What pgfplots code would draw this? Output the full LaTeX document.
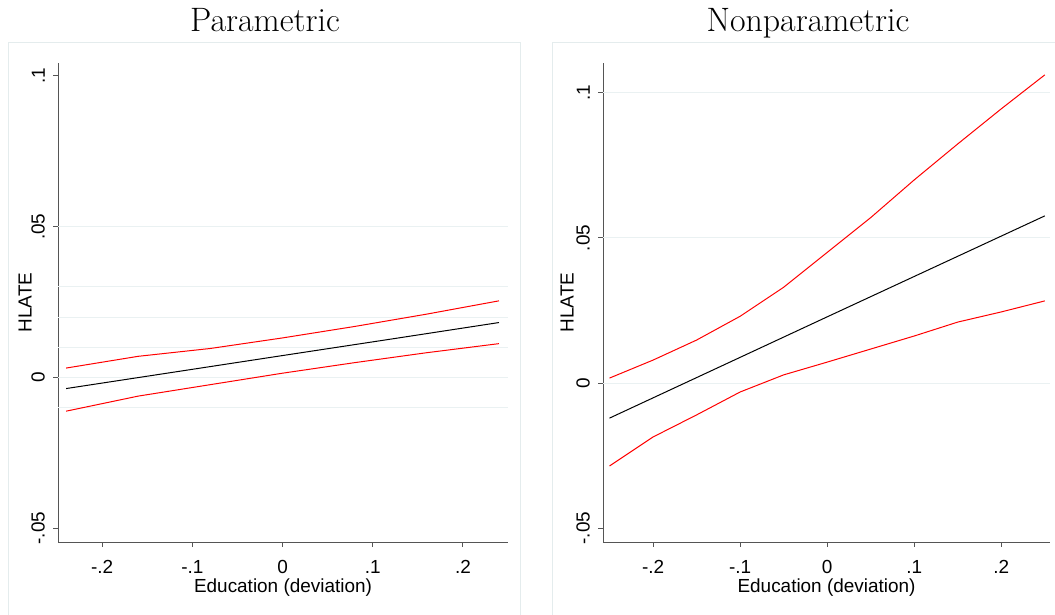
\documentclass[border=0pt]{standalone}
\usepackage{fontspec}
\usepackage{pgfplots}
\pgfplotsset{compat=1.18}
\newfontfamily\arial{Liberation Sans}
\definecolor{gridc}{RGB}{234,241,242}
\definecolor{framec}{RGB}{228,236,237}
\definecolor{axc}{RGB}{85,85,85}
\pgfplotsset{stata/.style={
  scale only axis, height=479bp,
  axis lines*=left,
  axis line style={axc, line width=1bp},
  tick style={draw=axc, line width=1bp},
  tick align=outside,
  major tick length=5bp,
  ticklabel style={font=\fontsize{19}{22}\arial},
  xtick={-0.2,-0.1,0,0.1,0.2},
  xticklabels={-.2,-.1,0,.1,.2},
  xticklabel style={anchor=north, inner sep=0pt, yshift=-13bp},
  ytick={-0.05,0,0.05,0.1},
  yticklabels={-.05,0,.05,.1},
  yticklabel style={rotate=90, anchor=south, inner sep=0pt, yshift=8bp},
  ymin=-0.0546, ymax=0.1043,
  every axis x label/.style={at={(axis description cs:0.5,-0.096)}, anchor=center, font=\fontsize{19}{22}\arial},
  xlabel={Education (deviation)},
  ylabel={HLATE},
}}
\begin{document}
\begin{tikzpicture}
\path[use as bounding box] (0,0) rectangle (1055bp,615bp);
\draw[framec, line width=1bp] (8bp,-5bp) -- (8bp,572bp) -- (520bp,572bp) -- (520bp,-5bp);
\draw[framec, line width=1bp] (552bp,-5bp) -- (552bp,572bp) -- (1065bp,572bp);
\node[anchor=base, font=\fontsize{34}{40}\selectfont] at (265bp,583bp) {Parametric};
\node[anchor=base, font=\fontsize{34}{40}\selectfont] at (808bp,583bp) {Nonparametric};

\begin{axis}[stata, at={(58bp,73bp)}, anchor=south west, width=450bp,
  xmin=-0.249, xmax=0.25,
  every axis y label/.style={at={(axis description cs:-0.0733,0.5)}, rotate=90, anchor=center, font=\fontsize{19}{22}\arial},
]
\pgfplotsinvokeforeach{-0.01,0,0.01,0.02,0.03,0.05}{
  \addplot[gridc, line width=1bp, forget plot] coordinates {(-0.249,#1) (0.25,#1)};
}
\pgfplotsinvokeforeach{-0.2,-0.1,0,0.1,0.2}{
  \draw[axc, line width=1bp] (axis cs:#1,-0.0546) -- ([yshift=-5bp]axis cs:#1,-0.0546);
}
\pgfplotsinvokeforeach{-0.05,0,0.05,0.1}{
  \draw[axc, line width=1bp] (axis cs:-0.249,#1) -- ([xshift=-5bp]axis cs:-0.249,#1);
}
\addplot[black, line width=1bp] coordinates {(-0.24,-0.0037) (-0.12,0.00177) (0,0.00725) (0.12,0.0127) (0.24,0.0182)};
\addplot[red, line width=1bp] coordinates {(-0.24,0.0031) (-0.16,0.0070) (-0.08,0.0096) (0,0.0131) (0.08,0.0169) (0.16,0.0210) (0.24,0.0254)};
\addplot[red, line width=1bp] coordinates {(-0.24,-0.0112) (-0.16,-0.0062) (-0.08,-0.0024) (0,0.0014) (0.08,0.0049) (0.16,0.0082) (0.24,0.0112)};
\end{axis}

\begin{axis}[stata, at={(603bp,73bp)}, anchor=south west, width=447bp,
  xmin=-0.2575, xmax=0.256, ymin=-0.0548, ymax=0.1103,
  every axis y label/.style={at={(axis description cs:-0.0805,0.5)}, rotate=90, anchor=center, font=\fontsize{19}{22}\arial},
]
\pgfplotsinvokeforeach{0,0.05,0.1}{
  \addplot[gridc, line width=1bp, forget plot] coordinates {(-0.2575,#1) (0.256,#1)};
}
\pgfplotsinvokeforeach{-0.2,0,0.2}{
  \draw[axc, line width=1bp] (axis cs:#1,-0.0548) -- ([yshift=-5bp]axis cs:#1,-0.0548);
}
\pgfplotsinvokeforeach{-0.05,0,0.05,0.1}{
  \draw[axc, line width=1bp] (axis cs:-0.2575,#1) -- ([xshift=-5bp]axis cs:-0.2575,#1);
}
\addplot[black, line width=1bp] coordinates {(-0.25,-0.0121) (0,0.0228) (0.25,0.0576)};
\addplot[red, line width=1bp] coordinates {(-0.25,0.0017) (-0.2,0.0079) (-0.15,0.0148) (-0.1,0.0230) (-0.05,0.0330) (0,0.0450) (0.05,0.0570) (0.1,0.0700) (0.15,0.0824) (0.2,0.0945) (0.25,0.1062)};
\addplot[red, line width=1bp] coordinates {(-0.25,-0.0286) (-0.2,-0.0186) (-0.15,-0.0110) (-0.1,-0.0031) (-0.05,0.0028) (0,0.0072) (0.05,0.0117) (0.1,0.0162) (0.15,0.0210) (0.2,0.0245) (0.25,0.0283)};
\end{axis}
\end{tikzpicture}
\end{document}
